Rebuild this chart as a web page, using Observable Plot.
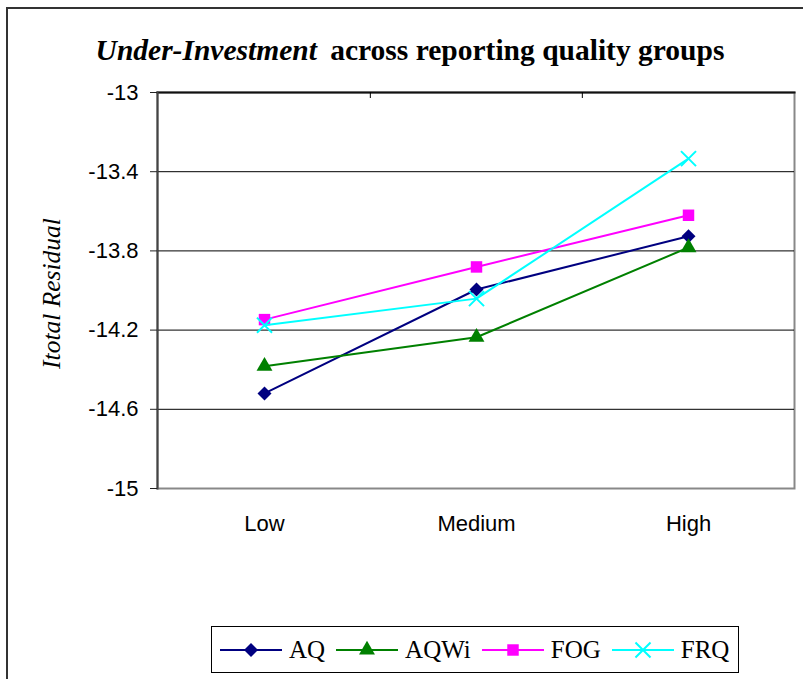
<!DOCTYPE html>
<html>
<head>
<meta charset="utf-8">
<script src="https://cdn.jsdelivr.net/npm/d3@7"></script>
<script src="https://cdn.jsdelivr.net/npm/@observablehq/plot@0.6"></script>
<style>
  html, body { margin: 0; padding: 0; background: #fff; }
  #chart { position: relative; width: 803px; height: 679px; overflow: hidden; background: #fff; }
  #outer { position: absolute; left: 6px; top: 7px; width: 830px; height: 700px; border: 2px solid #333; box-sizing: border-box; }
  #title { position: absolute; left: 0; top: 36px; width: 820px; text-align: center; font-family: "Liberation Serif", "Times New Roman", serif; font-weight: bold; font-size: 29.5px; line-height: 29.5px; color: #000; white-space: nowrap; }
  #title i { margin-right: 6px; }
  #plot { position: absolute; left: 0; top: 0; }
  #legend { position: absolute; left: 211px; top: 626px; width: 528px; height: 47px; border: 1px solid #000; box-sizing: border-box; display: flex; align-items: center; padding-left: 8px; font-family: "Liberation Serif", "Times New Roman", serif; font-size: 25px; color: #000; }
  #legend .item { display: flex; align-items: center; margin-right: 11px; }
  #legend svg { margin-right: 7px; }
</style>
</head>
<body>
<div id="chart">
  <div id="outer"></div>
  <div id="title"><i>Under-Investment</i> across reporting quality groups</div>
  <div id="plot"></div>
  <div id="legend"></div>
</div>
<script>
// ---- data ----
const categories = ["Low", "Medium", "High"];
const seriesNames = ["AQ", "AQWi", "FOG", "FRQ"];
const aqValues = [-14.52, -13.995, -13.726];
const aqwiValues = [-14.382, -14.236, -13.783];
const fogValues = [-14.147, -13.881, -13.62];
const frqValues = [-14.175, -14.041, -13.334];
const seriesColors = ["#000080", "#008000", "#FF00FF", "#00FFFF"];
const seriesSymbols = ["diamond2", "triangle2", "square2", "times"];
const yTicks = [-13, -13.4, -13.8, -14.2, -14.6, -15];
const yLabel = "Itotal Residual";

const seriesValues = [aqValues, aqwiValues, fogValues, frqValues];
const markerR = [6.3, 7.6, 7.3, 6.9];

const rows = seriesNames.flatMap((s, si) =>
  categories.map((c, ci) => ({series: s, category: c, value: seriesValues[si][ci]}))
);

const W = 803, H = 560, mL = 157, mR = 9, mT = 92, mB = 72;
const bw = (W - mL - mR) / categories.length;
const plotH = H - mT - mB;

const seriesMarks = seriesNames.flatMap((s, si) => {
  const data = rows.filter(d => d.series === s);
  const isStroke = seriesSymbols[si] === "times";
  return [
    Plot.line(data, {x: "category", y: "value", stroke: seriesColors[si], strokeWidth: 2}),
    Plot.dot(data, {
      x: "category", y: "value", symbol: seriesSymbols[si], r: markerR[si],
      fill: isStroke ? "none" : seriesColors[si],
      stroke: isStroke ? seriesColors[si] : "none",
      strokeWidth: isStroke ? 2 : 0
    })
  ];
});

const chart = Plot.plot({
  width: W, height: H,
  marginLeft: mL, marginRight: mR, marginTop: mT, marginBottom: mB,
  style: {background: "transparent", fontFamily: "Arial, 'Liberation Sans', sans-serif", color: "#000"},
  x: {type: "band", domain: categories, padding: 0, label: null},
  y: {domain: [-15, -13], label: null},
  marks: [
    Plot.frame({stroke: "#888", strokeWidth: 2}),
    Plot.ruleY(yTicks.slice(1, -1), {stroke: "#000", strokeWidth: 1}),
    Plot.frame({anchor: "top", stroke: "#111", strokeWidth: 2}),
    Plot.frame({anchor: "left", stroke: "#444", strokeWidth: 2}),
    Plot.tickX(categories.slice(1), {x: d => d, dx: -bw / 2, stroke: "#000", strokeWidth: 1, insetBottom: plotH - 6}),
    Plot.axisY({ticks: yTicks, tickSize: 7, tickPadding: 12, fontSize: 22, tickFormat: d => String(d), stroke: "#222", label: null}),
    Plot.axisX({anchor: "bottom", tickSize: 0, tickPadding: 27, fontSize: 22, label: null}),
    Plot.text([yLabel], {frameAnchor: "left", textAnchor: "middle", dx: -106, dy: 3, rotate: -90, fontFamily: "'Liberation Serif', 'Times New Roman', serif", fontStyle: "italic", fontSize: 25.5, fill: "#000"}),
    ...seriesMarks
  ]
});
document.getElementById("plot").appendChild(chart);

// ---- legend ----
const symbolMap = {diamond2: d3.symbolDiamond2, triangle2: d3.symbolTriangle2, square2: d3.symbolSquare2, times: d3.symbolTimes};
const legend = d3.select("#legend");
seriesNames.forEach((s, si) => {
  const item = legend.append("div").attr("class", "item");
  const svg = item.append("svg").attr("width", 62).attr("height", 22);
  svg.append("line").attr("x1", 0).attr("x2", 62).attr("y1", 11).attr("y2", 11)
    .attr("stroke", seriesColors[si]).attr("stroke-width", 2);
  const isStroke = seriesSymbols[si] === "times";
  svg.append("path")
    .attr("transform", "translate(31,11)")
    .attr("d", d3.symbol(symbolMap[seriesSymbols[si]], markerR[si] * markerR[si] * Math.PI)())
    .attr("fill", isStroke ? "none" : seriesColors[si])
    .attr("stroke", isStroke ? seriesColors[si] : "none")
    .attr("stroke-width", isStroke ? 2 : 0);
  item.append("span").text(s);
});
</script>
</body>
</html>
